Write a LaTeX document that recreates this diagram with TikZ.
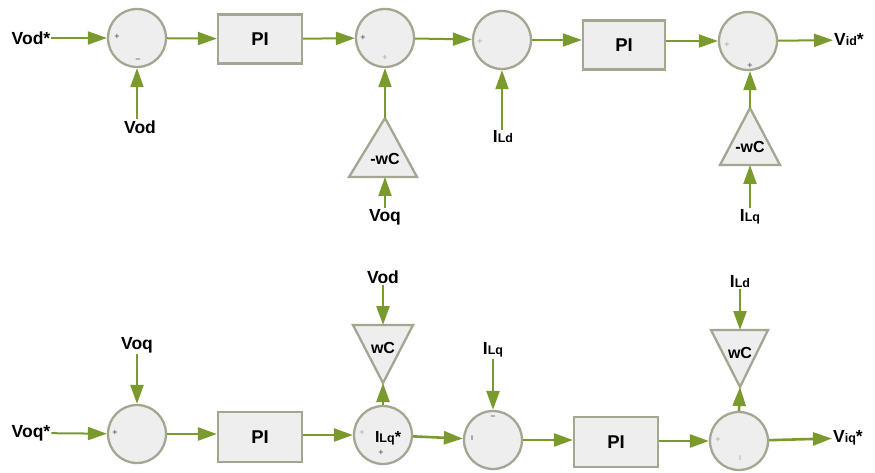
\documentclass[tikz,border=0pt]{standalone}
\usepackage{fontspec}
\setmainfont{Liberation Sans}
\usetikzlibrary{arrows.meta}
\definecolor{arr}{HTML}{7B9A2E}
\definecolor{bord}{HTML}{A3A792}
\definecolor{fillg}{HTML}{EEEEEE}
\newcommand{\smalltxt}[1]{{\fontsize{12.5}{12.5}\selectfont #1}}
\begin{document}
\begin{tikzpicture}[x=1pt,y=-1pt,
 sumc/.style={circle,draw=bord,fill=fillg,line width=2.3pt,minimum size=58pt,inner sep=0pt},
 pibox/.style={rectangle,draw=bord,fill=fillg,line width=2.3pt,minimum width=84pt,minimum height=49pt,font=\fontsize{18.5}{18.5}\selectfont\bfseries},
 tri/.style={draw=bord,fill=fillg,line width=2.3pt,line join=miter},
 lbl/.style={font=\fontsize{17.5}{17.5}\selectfont\bfseries,inner sep=1pt},
 trilbl/.style={font=\fontsize{16}{16}\selectfont\bfseries,inner sep=0pt},
 sig/.style={font=\fontsize{9}{9}\selectfont,text=black!75,inner sep=0pt},
 sigl/.style={sig,text=black!35},
 flow/.style={draw=arr,line width=2pt,-{Triangle[length=19pt,width=13pt]}},
 flowb/.style={flow,line width=2.6pt}]
\useasboundingbox[fill=white] (0,0) rectangle (875,473);

% ---------------- top row ----------------
\node[sumc] (c1) at (137,38) {};
\node[pibox] (p1) at (260,39) {PI};
\node[sumc] (c2) at (385,38) {};
\node[sumc] (c3) at (502,40) {};
\node[pibox,minimum width=82pt] (p2) at (624,45) {PI};
\node[sumc] (c4) at (748,41) {};

\coordinate (t1a) at (385,118); \coordinate (t1l) at (349,177);
\coordinate (t1r) at (417,177); \coordinate (t1b) at (385,177);
\draw[tri] (t1a) -- (t1l) -- (t1r) -- cycle;
\node[trilbl] (t1) at (385,159) {-wC};

\coordinate (t2a) at (750,108); \coordinate (t2l) at (720,165);
\coordinate (t2r) at (780,165); \coordinate (t2b) at (750,165);
\draw[tri] (t2a) -- (t2l) -- (t2r) -- cycle;
\node[trilbl] (t2) at (750,147) {-wC};

\node[lbl] (vods) at (31,38) {Vod*};
\node[lbl] (vod1) at (140,127) {Vod};
\node[lbl] (voq1) at (385,217) {Voq};
\node[lbl] (ild1) at (503,137) {I\smalltxt{Ld}};
\node[lbl] (ilq1) at (750,217) {I\smalltxt{Lq}};
\node[lbl,anchor=west] (vid) at (833,40) {V\smalltxt{id}*};

\draw[flow] (vods) -- (c1);
\draw[flow] (c1) -- (p1);
\draw[flow] (p1) -- (c2);
\draw[flow] (c2) -- (c3);
\draw[flow] (c3.east) -- (c3.east -| p2.west);
\draw[flow] (p2.east |- c4) -- (c4);
\draw[flow] (c4) -- (vid);
\draw[flow] (vod1.north -| c1.south) -- (c1.south);
\draw[flow] (t1a) -- (c2);
\draw[flow] (voq1) -- (t1b);
\draw[flow] (ild1.north -| c3.south) -- (c3.south);
\draw[flow] (t2a) -- (t2a |- c4.south);
\draw[flow] (ilq1) -- (t2b);

\node[sig] (s1) at (117,37) {+};
\node[sig] (s2) at (138,61) {−};
\node[sig] (s3) at (363,38) {+};
\node[sigl] (s4) at (385,58) {+};
\node[sigl] (s5) at (480,42) {+};
\node[sigl] (s6) at (727,45) {+};
\node[sig] (s7) at (750,66) {+};

% ---------------- bottom row ----------------
\node[sumc] (c5) at (137,434) {};
\node[pibox,minimum height=50pt] (p3) at (260,437) {PI};
\node[sumc] (c6) at (383,435) {};
\node[sumc] (c7) at (493,440) {};
\node[pibox,minimum height=50pt] (p4) at (616,442) {PI};
\node[sumc] (c8) at (739,441) {};

\coordinate (t3a) at (383,383); \coordinate (t3l) at (353,325);
\coordinate (t3r) at (413,325); \coordinate (t3b) at (383,325);
\draw[tri] (t3a) -- (t3l) -- (t3r) -- cycle;
\node[trilbl] (t3) at (383,348) {wC};

\coordinate (t4a) at (740,387); \coordinate (t4l) at (711,330);
\coordinate (t4r) at (768,330); \coordinate (t4b) at (740,330);
\draw[tri] (t4a) -- (t4l) -- (t4r) -- cycle;
\node[trilbl] (t4) at (740,353) {wC};

\node[lbl] (voqs) at (31,433) {Voq*};
\node[lbl] (voq2) at (137,345) {Voq};
\node[lbl] (vod2) at (383,277) {Vod};
\node[lbl] (ilq2) at (493,350) {I\smalltxt{Lq}};
\node[lbl] (ild2) at (740,282) {I\smalltxt{Ld}};
\node[lbl,anchor=west] (viq) at (832,438) {V\smalltxt{iq}*};
\node[trilbl] (ilqs) at (388,438) {I\smalltxt{Lq}*};

\draw[flow] (voqs) -- (c5);
\draw[flowb] (voq2) -- (c5);
\draw[flowb] (c5.east) -- (c5.east -| p3.west);
\draw[flowb] (p3.east |- c6) -- (c6);
\draw[flowb] (vod2) -- (t3b);
\draw[flowb] (c6) -- (t3a);
\draw[flowb] (c6) -- (c7);
\draw[flowb] (ilq2) -- (c7);
\draw[flowb] (c7.east) -- (c7.east -| p4.west);
\draw[flowb] (p4.east |- c8) -- (c8);
\draw[flowb] (ild2) -- (t4b);
\draw[flowb] (c8.north) -- (t4a);
\draw[flowb] (c8) -- (viq);

\node[sig] (s8) at (115,433) {+};
\node[sigl] (s9) at (362,433) {+};
\node[sig] (s10) at (381,453) {+};
\node[sig] (s11) at (493,418) {−};
\node[sig] (s12) at (472,438) {ı};
\node[sigl] (s13) at (718,440) {+};
\node[sigl] (s14) at (740,458) {ı};
\end{tikzpicture}
\end{document}
